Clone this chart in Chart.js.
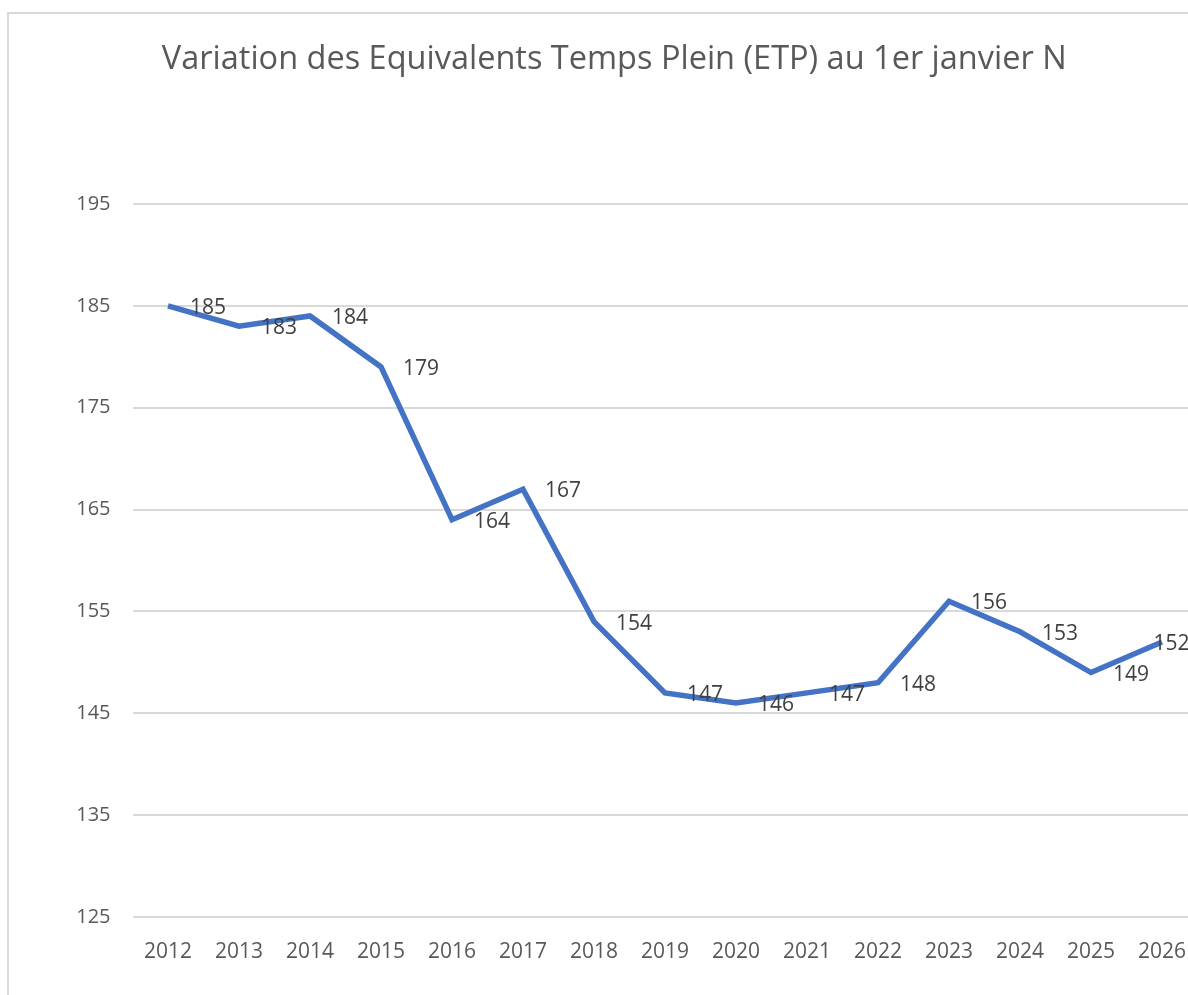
<!DOCTYPE html>
<html>
<head>
<meta charset="utf-8">
<script src="https://cdn.jsdelivr.net/npm/chart.js@4.4.1/dist/chart.umd.min.js"></script>
<style>
  html, body { margin: 0; padding: 0; background: #fff; overflow: hidden; }
  #cadre {
    position: absolute; left: 7px; top: 12px;
    width: 1200px; height: 990px;
    border: 2px solid #d9d9d9; background: #fff;
  }
</style>
</head>
<body>
<div id="cadre"><canvas id="etpChart" width="1200" height="990"></canvas></div>
<script>
// Données du graphique
const annees = ["2012", "2013", "2014", "2015", "2016", "2017", "2018", "2019",
                "2020", "2021", "2022", "2023", "2024", "2025", "2026"];
const etp = [185, 183, 184, 179, 164, 167, 154, 147, 146, 147, 148, 156, 153, 149, 152];
const graduations = [125, 135, 145, 155, 165, 175, 185, 195];

const police = "'Open Sans', 'Noto Sans', sans-serif";

// Étiquettes de données à droite des points (comme dans Excel)
const etiquettes = {
  id: 'etiquettes',
  afterDatasetsDraw(chart) {
    const ctx = chart.ctx;
    const meta = chart.getDatasetMeta(0);
    ctx.save();
    ctx.font = "21px " + police;
    ctx.fillStyle = "#404040";
    ctx.textAlign = "left";
    ctx.textBaseline = "middle";
    meta.data.forEach((pt, i) => {
      const txt = String(etp[i]);
      const w = ctx.measureText(txt).width;
      // Excel ramène l'étiquette dans la zone de traçage
      const x = Math.min(pt.x + 22, chart.chartArea.right - 8 - w);
      ctx.fillText(txt, x, pt.y + 2);
    });
    ctx.restore();
  }
};

new Chart(document.getElementById('etpChart').getContext('2d'), {
  type: 'line',
  data: {
    labels: annees,
    datasets: [{
      label: "ETP",
      data: etp,
      borderColor: "#4472C4",
      borderWidth: 5.5,
      pointRadius: 0,
      tension: 0,
      fill: false
    }]
  },
  options: {
    responsive: false,
    animation: false,
    layout: { padding: { left: 22, right: 11.5, top: 0, bottom: 0 } },
    plugins: {
      legend: { display: false },
      tooltip: { enabled: false },
      title: {
        display: true,
        text: "Variation des Equivalents Temps Plein (ETP) au 1er janvier N",
        color: "#595959",
        font: { family: police, size: 32.5, weight: 'normal' },
        padding: { top: 26, bottom: 74 }
      }
    },
    scales: {
      x: {
        offset: true,
        grid: { display: false },
        border: { display: false },
        ticks: { color: "#595959", font: { family: police, size: 21 }, padding: 14, maxRotation: 0 },
        afterFit: (s) => { s.height = 87; }
      },
      y: {
        min: 125,
        max: 200,
        afterBuildTicks: (s) => { s.ticks = graduations.map(v => ({ value: v })); },
        grid: { color: "#d9d9d9", lineWidth: 2, drawTicks: false },
        border: { display: false },
        ticks: { color: "#595959", font: { family: police, size: 20 }, padding: 22 },
        afterFit: (s) => { s.width = 101.5; }
      }
    }
  },
  plugins: [etiquettes]
});
</script>
</body>
</html>
